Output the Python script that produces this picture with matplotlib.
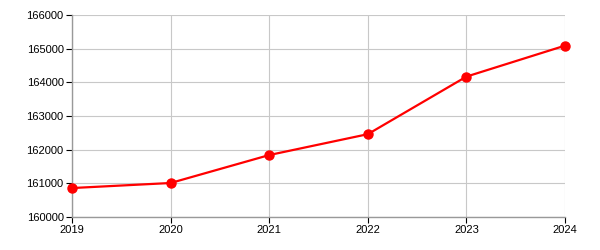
import matplotlib
matplotlib.use("Agg")
import matplotlib.pyplot as plt

years = [2019, 2020, 2021, 2022, 2023, 2024]
values = [160860, 161010, 161840, 162460, 164170, 165090]
y_ticks = [160000, 161000, 162000, 163000, 164000, 165000, 166000]

plt.rcParams['font.family'] = ['Liberation Sans', 'DejaVu Sans']

fig = plt.figure(figsize=(6, 2.5), dpi=100)
ax = fig.add_axes([72 / 600, 33 / 250, 493 / 600, 202 / 250])

ax.plot(years, values, color='#ff0000', linewidth=1.6, marker='o',
        markersize=6.5, zorder=3, clip_on=False)

ax.set_xlim(years[0], years[-1])
ax.set_ylim(y_ticks[0], y_ticks[-1])
ax.set_xticks(years)
ax.set_yticks(y_ticks)
ax.set_xticklabels([str(y) for y in years])
ax.set_yticklabels([str(v) for v in y_ticks])

ax.grid(True, color='#c8c8c8', linewidth=0.8)
ax.set_axisbelow(True)
for side in ['top', 'right']:
    ax.spines[side].set_visible(False)
for side in ['left', 'bottom']:
    ax.spines[side].set_color('#999999')
    ax.spines[side].set_linewidth(1)
ax.tick_params(axis='both', length=4, width=0.8, color='black',
               labelsize=8, pad=2, labelcolor='black')

fig.savefig('out.png', dpi=100)
